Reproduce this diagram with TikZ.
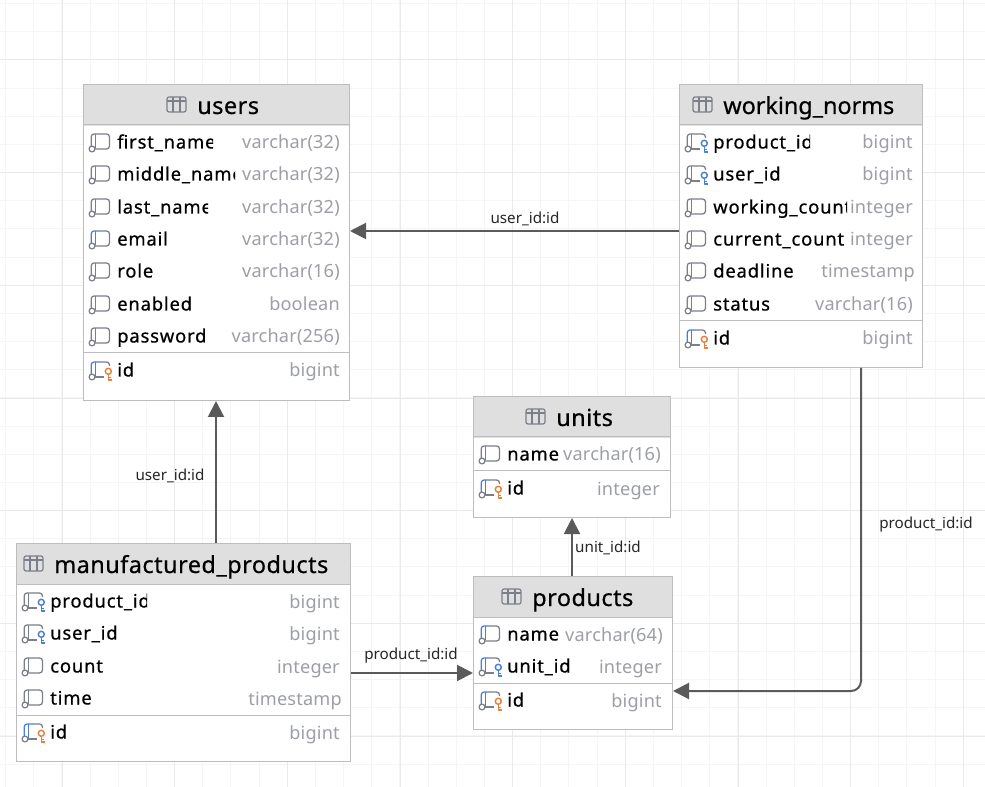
\documentclass[tikz,border=0pt]{standalone}
\usepackage{fontspec}
\setmainfont{Noto Sans}
\newfontfamily\titlefont[FakeBold=0.5,LetterSpace=2]{Noto Sans}
\newfontfamily\namefont[FakeBold=0.6,LetterSpace=4.5]{Noto Sans}
\newfontfamily\typefont[LetterSpace=1]{Noto Sans}
\usetikzlibrary{arrows.meta}

\definecolor{gridminor}{HTML}{F5F5F5}
\definecolor{gridmajor}{HTML}{EAEAEA}
\definecolor{boxline}{HTML}{BDBDBD}
\definecolor{headfill}{HTML}{DFDFDF}
\definecolor{iconline}{HTML}{7B7F8A}
\definecolor{iconblue}{HTML}{4A7FD6}
\definecolor{iconorange}{HTML}{E8803A}
\definecolor{typetext}{HTML}{9C9FA4}
\definecolor{relline}{HTML}{5A5A5A}

\tikzset{
  x=0.75pt, y=-0.75pt,
  tablebox/.style={draw=boxline, fill=white, line width=0.75pt, inner sep=0pt, anchor=north west},
  headbox/.style={fill=headfill, inner sep=0pt, anchor=north west},
  title/.style={font=\titlefont\fontsize{17.6pt}{19pt}\selectfont, text=black, inner sep=0pt, anchor=base west},
  colname/.style={font=\namefont\fontsize{13.8pt}{16pt}\selectfont, text=black, inner sep=0pt, anchor=base west},
  coltype/.style={font=\typefont\fontsize{13.6pt}{16pt}\selectfont, text=typetext, inner sep=0pt, anchor=base east},
  rel/.style={draw=relline, line width=1.5pt, -{Triangle[length=12pt,width=12pt]}},
  rellabel/.style={font=\fontsize{11.4pt}{13pt}\selectfont, text=black!85, inner sep=0pt},
  sepline/.style={draw=boxline, line width=0.75pt},
  icon/.style={line width=0.95pt, line join=round}
}

% table: id, x1, y1, x2, y2, separator y, title x, title
\newcommand{\dbtable}[8]{
  \node[tablebox, minimum width={(#4-#2)*0.75pt}, minimum height={(#5-#3)*0.75pt}] (#1) at (#2,#3) {};
  \node[headbox, minimum width={(#4-#2-1)*0.75pt}, minimum height={41*0.75pt}] (#1-head) at (#2+0.5,#3+0.5) {};
  \draw[sepline] (#1.west |- 0,#3+41) -- (#1.east |- 0,#3+41);
  \draw[sepline] (#1.west |- 0,#6) -- (#1.east |- 0,#6);
  \node[title] (#1-title) at (#7,#3+30) {#8};
  \draw[iconline, line width=0.9pt, rounded corners=1.5pt] (#7-30,#3+13) rectangle (#7-11,#3+28);
  \draw[iconline, line width=0.9pt] (#7-30,#3+17) -- (#7-11,#3+17) (#7-24,#3+13) -- (#7-24,#3+28) (#7-17,#3+13) -- (#7-17,#3+28);
}

% row: id, x, y, clip x, type right x, name, type
\newcommand{\dbrow}[7]{
  \begin{scope}
    \clip (#2,#3-14) rectangle (#4,#3+14);
    \node[colname] (#1-name) at (#2,#3+6.5) {#6};
  \end{scope}
  \node[coltype] (#1-type) at (#5,#3+7) {#7};
}

% left strip of a column icon: x, y, colour
\newcommand{\colstrip}[3]{
  \draw[icon, #3] (#1+6.7,#2+6) -- (#1+6.7,#2-8);
  \draw[icon, #3, rounded corners=2pt] (#1+2.3,#2+4) -- (#1+2.3,#2-8) -- (#1+11,#2-8);
  \draw[icon, iconline] (#1+3,#2+7) circle (2.9);
}
% column icon: x, y, strip colour
\newcommand{\colicon}[3]{
  \colstrip{#1}{#2}{#3}
  \draw[icon, iconline, rounded corners=2.2pt] (#1+11,#2-8) -- (#1+20.5,#2-8) -- (#1+20.5,#2+7) -- (#1+6.2,#2+7);
}
% column icon with key: x, y, strip colour, key colour
\newcommand{\keyicon}[4]{
  \colstrip{#1}{#2}{#3}
  \draw[icon, iconline, rounded corners=2.2pt] (#1+11,#2-8) -- (#1+20.5,#2-8) -- (#1+20.5,#2-4);
  \draw[icon, iconline] (#1+6.2,#2+7) -- (#1+15,#2+7);
  \draw[icon, #4, line width=1.1pt] (#1+19.3,#2+1.3) circle (3);
  \draw[icon, #4, line width=1.1pt] (#1+19.3,#2+4.3) -- (#1+19.3,#2+10) -- (#1+22.5,#2+10) (#1+19.3,#2+7.5) -- (#1+22,#2+7.5);
}

\begin{document}
\begin{tikzpicture}
    \useasboundingbox (0,0) rectangle (985,787);

    % Grid
    \foreach \i in {0,...,35} {
      \draw[gridminor, line width=0.75pt] (5.5+\i*28.17,0) -- (5.5+\i*28.17,787);
    }
    \foreach \i in {0,...,28} {
      \draw[gridminor, line width=0.75pt] (0,3.5+\i*28.17) -- (985,3.5+\i*28.17);
    }
    \foreach \i in {0,...,8} {
      \draw[gridmajor, line width=0.75pt] (62+\i*112.68,0) -- (62+\i*112.68,787);
    }
    \foreach \i in {0,...,6} {
      \draw[gridmajor, line width=0.75pt] (0,60+\i*112.68) -- (985,60+\i*112.68);
    }

    % Define tables
    \dbtable{users}{83}{84}{349}{400}{353}{197}{users}
    \dbtable{norms}{679}{84}{922}{367}{321}{723}{\addfontfeature{LetterSpace=-0.3}working\_norms}
    \dbtable{units}{473}{396}{670}{517}{471}{556}{units}
    \dbtable{products}{473}{576}{672}{729}{683}{532}{products}
    \dbtable{made}{16}{543}{350}{761}{715}{54}{manufactured\_products}

    % Rows of users
    \colicon{89}{142}{iconline}
    \dbrow{users-first}{117}{142}{213}{340}{first\_name}{varchar(32)}
    \colicon{89}{174}{iconline}
    \dbrow{users-middle}{117}{174}{235}{340}{middle\_name}{varchar(32)}
    \colicon{89}{207}{iconline}
    \dbrow{users-last}{117}{207}{208}{340}{last\_name}{varchar(32)}
    \colicon{89}{239}{iconblue}
    \dbrow{users-email}{117}{239}{235}{340}{email}{varchar(32)}
    \colicon{89}{271}{iconline}
    \dbrow{users-role}{117}{271}{235}{340}{role}{varchar(16)}
    \colicon{89}{304}{iconline}
    \dbrow{users-enabled}{117}{304}{235}{340}{enabled}{boolean}
    \colicon{89}{336}{iconline}
    \dbrow{users-password}{117}{336}{208}{340}{password}{varchar(256)}
    \keyicon{89}{370}{iconblue}{iconorange}
    \dbrow{users-id}{117}{370}{235}{340}{id}{bigint}

    % Rows of working_norms
    \keyicon{685}{142}{iconline}{iconblue}
    \dbrow{norms-product}{713}{142}{810}{913}{product\_id}{bigint}
    \keyicon{685}{174}{iconline}{iconblue}
    \dbrow{norms-user}{713}{174}{847}{913}{user\_id}{bigint}
    \colicon{685}{207}{iconline}
    \dbrow{norms-working}{713}{207}{847}{913}{working\_count}{integer}
    \colicon{685}{239}{iconline}
    \dbrow{norms-current}{713}{239}{847}{913}{current\_count}{integer}
    \colicon{685}{271}{iconline}
    \dbrow{norms-deadline}{713}{271}{847}{915}{deadline}{timestamp}
    \colicon{685}{304}{iconline}
    \dbrow{norms-status}{713}{304}{847}{913}{status}{varchar(16)}
    \keyicon{685}{338}{iconblue}{iconorange}
    \dbrow{norms-id}{713}{338}{847}{913}{id}{bigint}

    % Rows of units
    \colicon{479}{454}{iconline}
    \dbrow{units-name}{507}{454}{560}{661}{name}{varchar(16)}
    \keyicon{479}{488}{iconblue}{iconorange}
    \dbrow{units-id}{507}{488}{560}{660}{id}{integer}

    % Rows of products
    \colicon{479}{634}{iconblue}
    \dbrow{products-name}{507}{634}{560}{663}{name}{varchar(64)}
    \keyicon{479}{666}{iconblue}{iconblue}
    \dbrow{products-unit}{507}{666}{600}{662}{unit\_id}{integer}
    \keyicon{479}{700}{iconblue}{iconorange}
    \dbrow{products-id}{507}{700}{600}{662}{id}{bigint}

    % Rows of manufactured_products
    \keyicon{22}{601}{iconline}{iconblue}
    \dbrow{made-product}{50}{601}{147}{340}{product\_id}{bigint}
    \keyicon{22}{633}{iconline}{iconblue}
    \dbrow{made-user}{50}{633}{200}{340}{user\_id}{bigint}
    \colicon{22}{666}{iconline}
    \dbrow{made-count}{50}{666}{200}{340}{count}{integer}
    \colicon{22}{698}{iconline}
    \dbrow{made-time}{50}{698}{200}{342}{time}{timestamp}
    \keyicon{22}{732}{iconblue}{iconorange}
    \dbrow{made-id}{50}{732}{200}{340}{id}{bigint}

    % Connect the tables
    \draw[rel] (norms.west |- 0,231) -- (users.east |- 0,231);
    \draw[rel] (made.north -| 216,0) -- (users.south -| 216,0);
    \draw[rel] (made.east |- 0,673) -- (products.west |- 0,673);
    \draw[rel] (products.north -| 572,0) -- (units.south -| 572,0);
    \draw[rel, rounded corners=7.5pt] (norms.south -| 861,0) |- (products.east |- 0,691);

    % Labels of the connectors
    \node[rellabel] (label-norms-users) at (525,219) {user\_id:id};
    \node[rellabel] (label-made-users) at (170,476) {user\_id:id};
    \node[rellabel] (label-made-products) at (411,656) {product\_id:id};
    \node[rellabel] (label-products-units) at (608,548) {unit\_id:id};
    \node[rellabel] (label-norms-products) at (926,525) {product\_id:id};

\end{tikzpicture}
\end{document}
